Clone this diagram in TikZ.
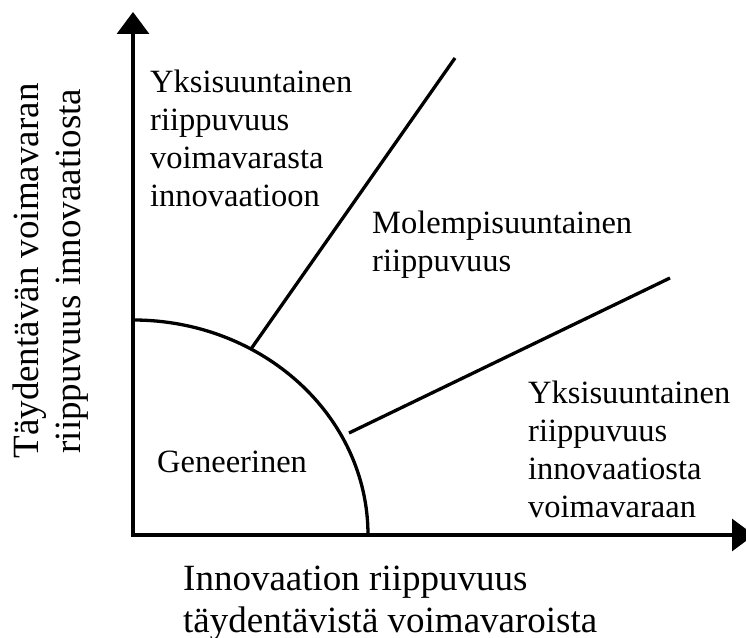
\documentclass[tikz,border=0pt]{standalone}
\usepackage{fontspec}
\setmainfont{Liberation Serif}
\usetikzlibrary{arrows.meta}

\begin{document}
\begin{tikzpicture}[x=1pt,y=1pt,
  axis/.style={line width=3.3pt, {Triangle[length=22pt,width=32pt]}-{Triangle[length=22pt,width=32pt]}},
  rajaviiva/.style={line width=3.3pt},
  alue/.style={inner sep=0pt, anchor=base west, align=left, font=\fontsize{32.5}{38}\selectfont},
  akseli/.style={inner sep=0pt, font=\fontsize{37}{42}\selectfont}]
  \useasboundingbox (0,0) rectangle (746,637);
  % akselit
  \coordinate (O) at (133,102);
  \coordinate (ytip) at (133,625);
  \coordinate (xtip) at (754,102);
  \draw[axis] (ytip) -- (O) -- (xtip);
  % geneerinen alue
  \coordinate (kaari) at (133,317);
  \draw[rajaviiva] (kaari) arc[start angle=90, end angle=0, x radius=235, y radius=215];
  % rajat
  \coordinate (a) at (251,288);
  \coordinate (b) at (455,579);
  \coordinate (c) at (349,204);
  \coordinate (d) at (670,359);
  \draw[rajaviiva] (a) -- (b);
  \draw[rajaviiva] (c) -- (d);
  % tekstit (base = viimeisen rivin pohjaviiva)
  \node[alue] (yksi1) at (150,430) {Yksisuuntainen\\riippuvuus\\voimavarasta\\innovaatioon};
  \node[alue] (mole) at (372,365) {Molempisuuntainen\\riippuvuus};
  \node[alue] (yksi2) at (528,120) {Yksisuuntainen\\riippuvuus\\innovaatiosta\\voimavaraan};
  \node[alue] (gene) at (157,164) {Geneerinen};
  \node[akseli, anchor=base west, align=left] (xnimi) at (183,5) {Innovaation riippuvuus\\täydentävistä voimavaroista};
  \node[akseli, anchor=base, align=center, rotate=90] (ynimi) at (80,366) {Täydentävän voimavaran\\riippuvuus innovaatiosta};
\end{tikzpicture}
\end{document}
